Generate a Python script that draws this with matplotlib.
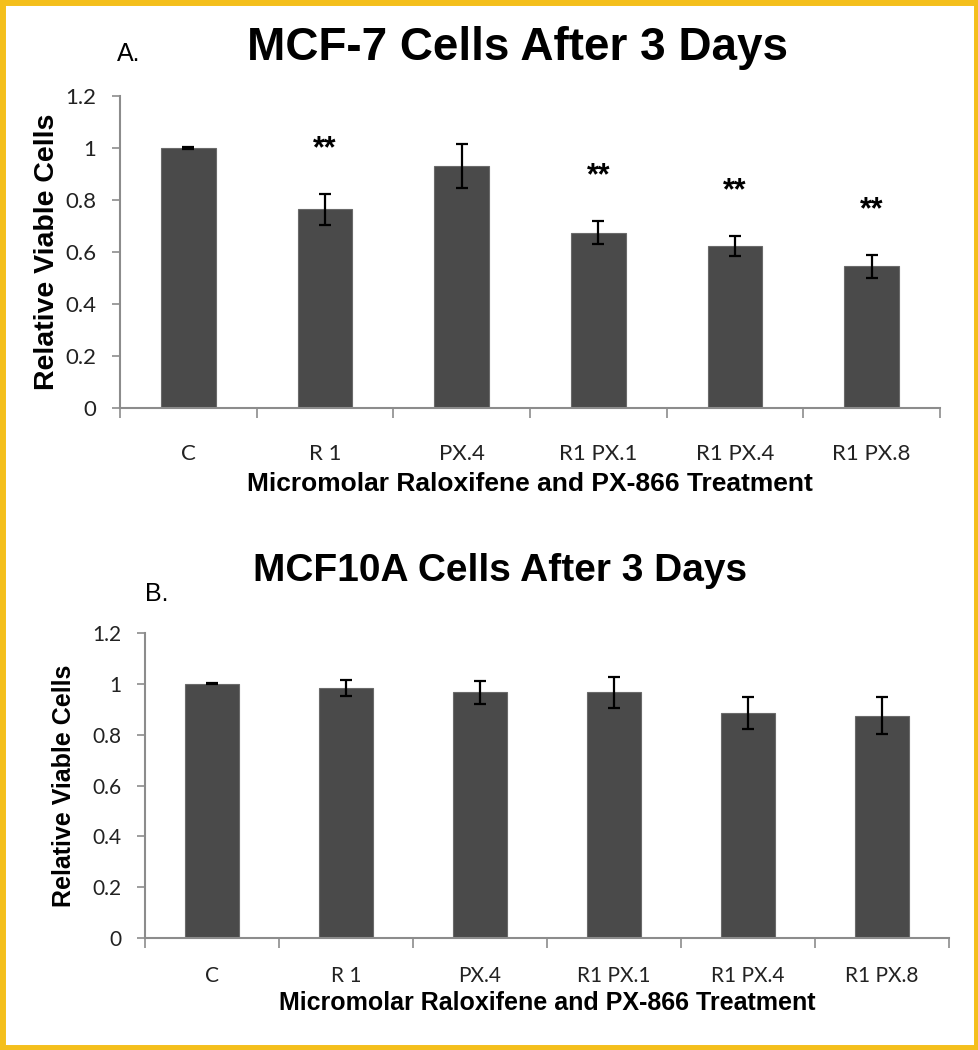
import numpy as np
import matplotlib.pyplot as plt
from matplotlib.patches import Rectangle

categories = ['C', 'R 1', 'PX.4', 'R1 PX.1', 'R1 PX.4', 'R1 PX.8']

# MCF-7 (panel A)
mcf7_mean = [1.0, 0.765, 0.93, 0.675, 0.623, 0.545]
mcf7_err = [0.002, 0.06, 0.085, 0.045, 0.04, 0.045]
mcf7_sig = ['', '**', '', '**', '**', '**']

# MCF10A (panel B)
mcf10a_mean = [1.0, 0.985, 0.967, 0.966, 0.885, 0.874]
mcf10a_err = [0.002, 0.032, 0.045, 0.06, 0.064, 0.073]

bar_color = '#4a4a4a'
axis_color = '#8c8c8c'
tick_font = 'Lato'
bold_font = 'Liberation Sans'

fig = plt.figure(figsize=(9.79, 10.5), dpi=100)


def panel(rect, means, errs, tick_size, label_size, xpad, ylabel_pad, xlabel_pad):
    ax = fig.add_axes(rect)
    x = np.arange(len(categories))
    ax.bar(x, means, width=0.4, color=bar_color, edgecolor='#6a6a6a', linewidth=0.8, zorder=2)
    ax.errorbar(x, means, yerr=errs, fmt='none', ecolor='black', elinewidth=1.6,
                capsize=4.5, capthick=1.6, zorder=3)
    ax.set_xlim(-0.5, len(categories) - 0.5)
    ax.set_ylim(0, 1.2)
    ax.set_yticks(np.arange(0, 1.21, 0.2))
    ax.set_yticklabels(['0', '0.2', '0.4', '0.6', '0.8', '1', '1.2'],
                       fontsize=tick_size, family=tick_font, color='#222222')
    ax.set_xticks(x)
    ax.set_xticklabels(categories, fontsize=tick_size, family=tick_font, color='#222222')
    ax.set_xticks(np.arange(-0.5, len(categories)), minor=True)
    ax.tick_params(axis='x', which='major', length=0, pad=xpad)
    ax.tick_params(axis='x', which='minor', length=7, width=1.2, color=axis_color, direction='out')
    ax.tick_params(axis='y', length=6, width=1.2, color=axis_color, direction='out', pad=11)
    for s in ['top', 'right']:
        ax.spines[s].set_visible(False)
    for s in ['left', 'bottom']:
        ax.spines[s].set_color(axis_color)
        ax.spines[s].set_linewidth(1.5)
    ax.set_ylabel('Relative Viable Cells', fontsize=label_size, fontweight='bold',
                  family=bold_font, labelpad=ylabel_pad)
    ax.set_xlabel('Micromolar Raloxifene and PX-866 Treatment', fontsize=label_size,
                  fontweight='bold', family=bold_font, labelpad=xlabel_pad)
    return ax


axA = panel([120 / 979, 1 - 408 / 1050, 820 / 979, 312 / 1050],
            mcf7_mean, mcf7_err, 16, 19, 26, 4, 6)
axA.yaxis.label.set_fontsize(20.5)
for i, s in enumerate(mcf7_sig):
    if s:
        axA.text(i, mcf7_mean[i] + mcf7_err[i] + 0.17, s, fontsize=22,
                 fontweight='bold', family=bold_font, ha='center', va='center')
fig.text(518 / 979, 1 - 48 / 1050, 'MCF-7 Cells After 3 Days', fontsize=33,
         fontweight='bold', family=bold_font, ha='center', va='center')
fig.text(117 / 979, 1 - 54 / 1050, 'A.', fontsize=18, family=bold_font,
         ha='left', va='center')

axB = panel([145 / 979, 1 - 938 / 1050, 804 / 979, 305 / 1050],
            mcf10a_mean, mcf10a_err, 15, 18, 20, 12, 4)
fig.text(500 / 979, 1 - 571 / 1050, 'MCF10A Cells After 3 Days', fontsize=28,
         fontweight='bold', family=bold_font, ha='center', va='center')
fig.text(145 / 979, 1 - 594 / 1050, 'B.', fontsize=18, family=bold_font,
         ha='left', va='center')

fig.patches.append(Rectangle((0.002, 0.002), 0.996, 0.996, transform=fig.transFigure,
                             fill=False, edgecolor='#f4bf1c', linewidth=5))

fig.savefig('out.png', dpi=100)
